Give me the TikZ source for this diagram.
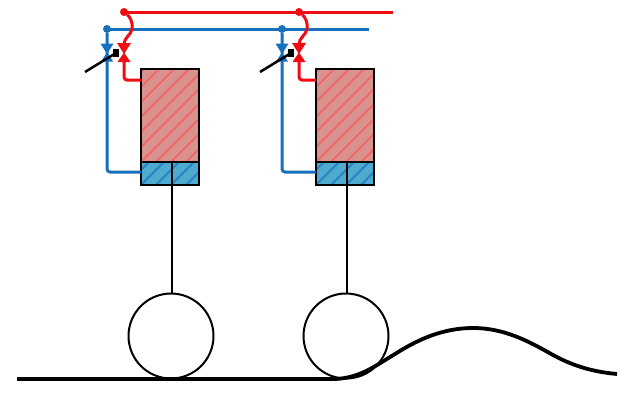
\documentclass[tikz,border=0pt]{standalone}
\usetikzlibrary{calc}
\definecolor{hotred}{RGB}{240,12,18}
\definecolor{coolblue}{RGB}{22,112,190}
\definecolor{redfill}{RGB}{218,146,142}
\definecolor{redhatch}{RGB}{240,104,104}
\definecolor{bluefill}{RGB}{78,170,206}
\definecolor{bluehatch}{RGB}{40,132,194}
\tikzset{
  redbox/.style={inner sep=0pt,minimum width=58pt,minimum height=93pt,fill=redfill},
  bluebox/.style={inner sep=0pt,minimum width=58pt,minimum height=23pt,fill=bluefill},
  outline/.style={draw=black,line width=2.2pt},
  hatchline/.style={line width=2pt},
  wheel/.style={draw=black,line width=2pt,circle,inner sep=0pt,minimum size=85pt,fill=white},
  rod/.style={draw=black,line width=2.2pt},
  hotpipe/.style={draw=hotred,line width=3pt,rounded corners=3pt},
  coolpipe/.style={draw=coolblue,line width=3pt,rounded corners=3pt},
  hotdot/.style={circle,fill=hotred,inner sep=0pt,minimum size=8pt},
  cooldot/.style={circle,fill=coolblue,inner sep=0pt,minimum size=8pt},
  knob/.style={fill=black,inner sep=0pt,minimum width=6pt,minimum height=8pt},
  lever/.style={draw=black,line width=2.5pt},
  road/.style={draw=black,line width=3.8pt}
}
\begin{document}
\begin{tikzpicture}[x=1pt,y=-1pt]
\useasboundingbox (0,0) rectangle (628,402);
\fill[white] (0,0) rectangle (628,402);
\coordinate (hotend) at (393,12);
\coordinate (coolend) at (369,29);
\draw[hotpipe] (124,12) -- (hotend);
\draw[coolpipe] (107,29) -- (coolend);
\foreach \i/\dx in {1/0,2/175}{
  \begin{scope}[xshift=\dx pt]
    \node[redbox] (hot\i) at (170,115.5) {};
    \node[bluebox] (cl\i) at (170,173.5) {};
    \begin{scope}
      \clip (hot\i.south west) rectangle (hot\i.north east);
      \foreach \k in {-6,...,5}{
        \draw[hatchline,redhatch] (126+\k*15,162) -- (219+\k*15,69);
      }
    \end{scope}
    \begin{scope}
      \clip (cl\i.south west) rectangle (cl\i.north east);
      \foreach \k in {-2,...,5}{
        \draw[hatchline,bluehatch] (141+\k*15,185) -- (164+\k*15,162);
      }
    \end{scope}
    \draw[outline] (hot\i.south west) rectangle (hot\i.north east);
    \draw[outline] (cl\i.south west) rectangle (cl\i.north east);
    \node[wheel] (wh\i) at (171,336) {};
    \draw[rod] (172,162) -- (172,293);
    \node[hotdot] (hd\i) at (124,12) {};
    \node[cooldot] (cd\i) at (107,29) {};
    \coordinate (hv\i) at (124,44);
    \coordinate (hb\i) at (124,62);
    \coordinate (cx\i) at (141,172);
    \coordinate (hl\i) at (141,80);
    \draw[coolpipe] (cd\i) -- (107,172) -- (cx\i);
    \draw[hotpipe] (hb\i) -- (124,80) -- (hl\i);
    \draw[draw=hotred,line width=3pt] (hd\i) .. controls (130,17) and (133,22) .. (132,29) .. controls (131,35) and (124,38) .. (hv\i);
    \fill[coolblue] (100.5,43.5) -- (113.5,43.5) -- (107,54) -- cycle;
    \fill[coolblue] (101,61.5) -- (113,61.5) -- (107,52.5) -- cycle;
    \fill[hotred] (117,43) -- (131,43) -- (124,54) -- cycle;
    \fill[hotred] (117.5,62) -- (130.5,62) -- (124,52.5) -- cycle;
    \coordinate (lv\i) at (85,72);
    \node[knob] (kn\i) at (116,53) {};
    \draw[lever] (lv\i) -- (kn\i.center);
  \end{scope}
}
\coordinate (r0) at (17,379);
\coordinate (r1) at (335,379);
\coordinate (r2) at (617,374);
\draw[road] (r0) -- (r1) .. controls (360,378) and (375,366) .. (395,354)
  .. controls (420,338) and (445,328) .. (473,328)
  .. controls (505,328) and (530,342) .. (553,355)
  .. controls (575,367) and (595,372) .. (r2);
\end{tikzpicture}
\end{document}
